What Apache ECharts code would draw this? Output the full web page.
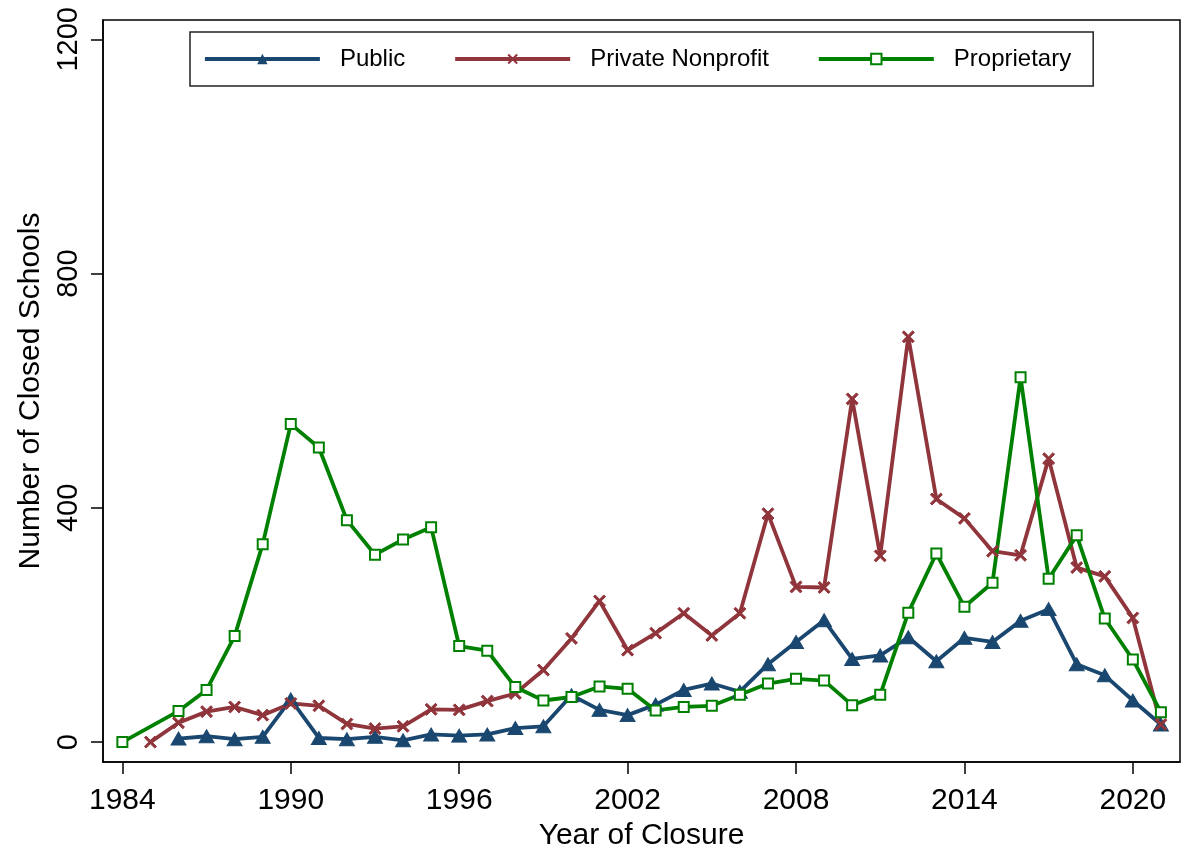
<!DOCTYPE html>
<html>
<head>
<meta charset="utf-8">
<script src="https://cdn.jsdelivr.net/npm/echarts@6/dist/echarts.min.js"></script>
<style>
  html, body { margin: 0; padding: 0; background: #fff; }
  #chart { width: 1191px; height: 846px; }
</style>
</head>
<body>
<div id="chart"></div>
<script>
// closures per year, 1984-2021 (null = no point)
const years = [1984, 1985, 1986, 1987, 1988, 1989, 1990, 1991, 1992, 1993, 1994, 1995, 1996, 1997, 1998, 1999, 2000, 2001, 2002,
  2003, 2004, 2005, 2006, 2007, 2008, 2009, 2010, 2011, 2012, 2013, 2014, 2015, 2016, 2017, 2018, 2019, 2020, 2021];
const publicVals = [null, null, 6, 10, 5, 9, 73, 7, 5, 9, 3, 13, 11, 13, 24, 27, 80, 55, 46,
  64, 89, 100, 86, 133, 171, 208, 142, 148, 179, 138, 178, 171, 207, 227, 133, 114, 71, 30];
const privateVals = [null, 0, 33, 52, 60, 46, 66, 62, 31, 23, 27, 56, 55, 70, 83, 123, 177, 241, 157,
  186, 220, 182, 220, 390, 265, 264, 586, 318, 692, 415, 382, 326, 319, 484, 298, 283, 212, 30];
const proprietaryVals = [0, null, 53, 89, 181, 338, 543, 503, 379, 320, 346, 367, 164, 156, 94, 71, 77, 95, 91,
  54, 60, 62, 81, 100, 108, 105, 63, 81, 221, 322, 231, 272, 623, 279, 353, 211, 141, 51];

const xTicks = [1984, 1990, 1996, 2002, 2008, 2014, 2020];
const yTicks = [0, 400, 800, 1200];

const FONT = '"Liberation Sans", Arial, sans-serif';
const xSymbol = 'path://M0,1.4 L1.4,0 L5,3.6 L8.6,0 L10,1.4 L6.4,5 L10,8.6 L8.6,10 L5,6.4 L1.4,10 L0,8.6 L3.6,5 Z';

// pair years with values, skip missing ones so the line joins across gaps
function pairs(vals) {
  let out = [];
  for (let i = 0; i < years.length; i++) {
    if (vals[i] != null) out.push([years[i], vals[i]]);
  }
  return out;
}

function lineSeries(name, vals, color, symbol, size, extra) {
  return Object.assign({
    name: name,
    type: 'line',
    data: pairs(vals),
    symbol: symbol,
    symbolSize: size,
    showAllSymbol: true,
    lineStyle: { color: color, width: 3.8 },
    itemStyle: { color: color, borderColor: color },
    emphasis: { disabled: true },
    animation: false
  }, extra || {});
}

const chart = echarts.init(document.getElementById('chart'));
chart.setOption({
  backgroundColor: '#fff',
  textStyle: { fontFamily: FONT },
  grid: {
    left: 103, right: 11, top: 20, bottom: 84,
    outerBoundsMode: 'none',
    show: true, borderColor: '#000', borderWidth: 1.5, containLabel: false
  },
  legend: {
    left: 190, top: 32,
    padding: [15, 22, 15, 13],
    itemGap: 48,
    itemWidth: 115,
    itemHeight: 13,
    borderColor: '#222',
    borderWidth: 1.5,
    lineStyle: { width: 3.8 },
    textStyle: { fontFamily: FONT, fontSize: 24, color: '#000', padding: [0, 0, 0, 15] },
    data: ['Public', 'Private Nonprofit', 'Proprietary']
  },
  xAxis: {
    type: 'value',
    min: 1983.31, max: 2021.68,
    name: 'Year of Closure',
    nameLocation: 'middle',
    nameGap: 56,
    nameTextStyle: { fontFamily: FONT, fontSize: 30, color: '#000' },
    axisLine: { show: true, onZero: false, lineStyle: { color: '#000', width: 1.5 } },
    axisTick: { show: true, length: 12, customValues: xTicks, lineStyle: { color: '#000', width: 1.5 } },
    axisLabel: { customValues: xTicks, fontSize: 30, color: '#000', margin: 24, fontFamily: FONT,
      formatter: function (v) { return String(v); } },
    splitLine: { show: false }
  },
  yAxis: {
    type: 'value',
    min: -34, max: 1233,
    name: 'Number of Closed Schools',
    nameLocation: 'middle',
    nameRotate: 90,
    nameGap: 55,
    nameTextStyle: { fontFamily: FONT, fontSize: 30, color: '#000' },
    axisLine: { show: true, onZero: false, lineStyle: { color: '#000', width: 1.5 } },
    axisTick: { show: true, length: 12, customValues: yTicks, lineStyle: { color: '#000', width: 1.5 } },
    axisLabel: { customValues: yTicks, rotate: 90, fontSize: 29, color: '#000', margin: 20, fontFamily: FONT,
      formatter: function (v) { return String(v); } },
    splitLine: { show: false }
  },
  series: [
    lineSeries('Public', publicVals, '#1a476f', 'triangle', [15, 13]),
    lineSeries('Private Nonprofit', privateVals, '#90353b', xSymbol, 12),
    lineSeries('Proprietary', proprietaryVals, '#008000', 'emptyRect', 10, {
      itemStyle: { color: '#008000', borderColor: '#008000', borderWidth: 2 }
    })
  ]
});
</script>
</body>
</html>
